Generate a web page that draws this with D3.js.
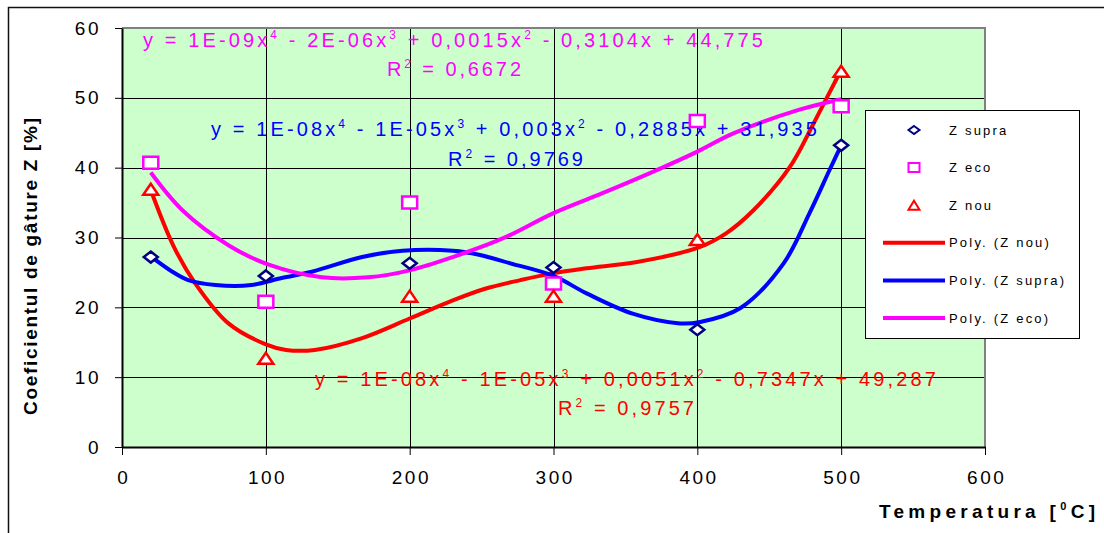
<!DOCTYPE html>
<html>
<head>
<meta charset="utf-8">
<script src="https://cdn.jsdelivr.net/npm/d3@7"></script>
<style>
  body { margin: 0; background: #fff; }
  svg { display: block; font-family: "Liberation Sans", Arial, sans-serif; }
</style>
</head>
<body>
<svg id="chart" width="1104" height="533"></svg>
<script>
// measured points
var temps = [20, 100, 200, 300, 400, 500];
var zSupra = [27.2, 24.5, 26.3, 25.7, 16.8, 43.2];
var zEco = [40.7, 20.8, 35.0, 23.4, 46.7, 48.8];
var zNou = [36.9, 12.7, 21.6, 21.6, 29.7, 53.8];

// trend lines
var trendNouX = [20, 36, 51, 74, 100, 114, 134, 167, 200, 230, 253, 277, 300, 323, 358, 400, 420, 439, 464, 481, 495, 500];
var trendNouY = [36.8, 28.7, 23.4, 17.7, 14.7, 13.9, 13.9, 15.6, 18.4, 21.0, 22.7, 23.9, 24.9, 25.6, 26.5, 28.5, 30.6, 33.9, 40.0, 46.4, 52.0, 54.0];
var trendSupraX = [20, 35, 46, 65, 90, 111, 132, 167, 195, 230, 249, 270, 300, 323, 355, 388, 402, 430, 460, 478, 492, 500];
var trendSupraY = [27.3, 25.1, 23.9, 23.2, 23.2, 24.2, 25.1, 27.2, 28.1, 28.1, 27.5, 26.3, 24.5, 22.0, 19.1, 17.7, 17.9, 19.9, 26.3, 33.5, 39.7, 43.2];
var trendEcoX = [20, 42, 74, 102, 139, 171, 200, 230, 265, 300, 337, 369, 400, 425, 471, 500];
var trendEcoY = [39.3, 33.9, 28.9, 26.1, 24.3, 24.3, 25.3, 27.2, 29.9, 33.5, 36.6, 39.4, 42.3, 44.9, 48.3, 49.8];

var xTicks = [0, 100, 200, 300, 400, 500, 600];
var yTicks = [0, 10, 20, 30, 40, 50, 60];

var eqEco = ["y = 1E-09x^4 - 2E-06x^3 + 0,0015x^2 - 0,3104x + 44,775", "R^2 = 0,6672"];
var eqSupra = ["y = 1E-08x^4 - 1E-05x^3 + 0,003x^2 - 0,2885x + 31,935", "R^2 = 0,9769"];
var eqNou = ["y = 1E-08x^4 - 1E-05x^3 + 0,0051x^2 - 0,7347x + 49,287", "R^2 = 0,9757"];

var legendNames = ["Z supra", "Z eco", "Z nou", "Poly. (Z nou)", "Poly. (Z supra)", "Poly. (Z eco)"];

var svg = d3.select('#chart');

var x = d3.scaleLinear().domain([0, 600]).range([122, 985]);
var y = d3.scaleLinear().domain([0, 60]).range([447, 28]);

// outer chart frame
svg.append('rect')
  .attr('x', 8.5).attr('y', 7.5)
  .attr('width', 1200).attr('height', 600)
  .style('fill', '#fff').style('stroke', '#111').style('stroke-width', 1.5);

// plot area
svg.append('rect')
  .attr('x', x(0)).attr('y', y(60))
  .attr('width', x(600) - x(0)).attr('height', y(0) - y(60))
  .style('fill', '#ccffcc');

// grid
svg.append('g').selectAll('line').data(yTicks.slice(1, -1)).enter().append('line')
  .attr('x1', x(0)).attr('x2', x(600))
  .attr('y1', function(d) { return Math.round(y(d)) + 0.5; })
  .attr('y2', function(d) { return Math.round(y(d)) + 0.5; })
  .style('stroke', '#000').style('stroke-width', 1);
svg.append('g').selectAll('line').data(xTicks.slice(1, -1)).enter().append('line')
  .attr('y1', y(0)).attr('y2', y(60))
  .attr('x1', function(d) { return Math.round(x(d)) + 0.5; })
  .attr('x2', function(d) { return Math.round(x(d)) + 0.5; })
  .style('stroke', '#000').style('stroke-width', 1);

// grey border top / right
svg.append('path')
  .attr('d', 'M' + x(0) + ',' + y(60) + 'H' + x(600) + 'V' + y(0))
  .style('fill', 'none').style('stroke', '#808080').style('stroke-width', 2);

// axes
var yAxis = svg.append('g')
  .attr('transform', 'translate(' + x(0) + ',0)')
  .call(d3.axisLeft(y).tickValues(yTicks).tickSize(7).tickSizeOuter(0).tickPadding(14));
var xAxis = svg.append('g')
  .attr('transform', 'translate(0,' + y(0) + ')')
  .call(d3.axisBottom(x).tickValues(xTicks).tickSize(8).tickSizeOuter(0).tickPadding(16));

[yAxis, xAxis].forEach(function(a) {
  a.select('.domain').style('stroke', '#000').style('stroke-width', 2);
  a.selectAll('.tick line').style('stroke', '#000').style('stroke-width', 1);
  a.selectAll('.tick text')
    .style('font-size', '19px').style('fill', '#000')
    .style('font-family', '"Liberation Sans", Arial, sans-serif')
    .style('letter-spacing', '2.5px');
});
xAxis.selectAll('.tick text').attr('dx', '1.2px');

// trend lines
var line = d3.line().curve(d3.curveCatmullRom.alpha(0.5))
  .x(function(d) { return x(d[0]); })
  .y(function(d) { return y(d[1]); });

function drawTrend(xs, ys, color) {
  svg.append('path')
    .datum(d3.zip(xs, ys))
    .attr('d', line)
    .style('fill', 'none').style('stroke', color)
    .style('stroke-width', 4).style('stroke-linejoin', 'round');
}
drawTrend(trendNouX, trendNouY, '#ff0000');
drawTrend(trendSupraX, trendSupraY, '#0000ff');
drawTrend(trendEcoX, trendEcoY, '#ff00ff');

// stretch text to a measured width through letter spacing
function fitWidth(t, w) {
  var n = t.text().length;
  var natural = t.node().getBBox().width;
  t.style('letter-spacing', ((w - natural) / (n - 1)) + 'px');
}

// text with ^n superscripts
function richText(g, str, px, py, size, color) {
  var t = g.append('text').attr('x', px).attr('y', py)
    .style('font-size', size + 'px').style('fill', color);
  var parts = str.split(/\^(\d)/);
  var shift = Math.round(size * 0.42);
  parts.forEach(function(p, i) {
    if (p === '') return;
    if (i % 2 === 1) {
      t.append('tspan').attr('dy', -shift).style('font-size', Math.round(size * 0.62) + 'px').text(p);
    } else {
      var s = t.append('tspan').text(p);
      if (i > 0) s.attr('dy', shift);
    }
  });
  return t;
}

var labels = svg.append('g');
fitWidth(richText(labels, eqEco[0], 143, 47, 20, '#ff00ff'), 620);
fitWidth(richText(labels, eqEco[1], 387, 76, 20, '#ff00ff'), 134);
fitWidth(richText(labels, eqSupra[0], 211, 136, 20, '#0000ff'), 606);
fitWidth(richText(labels, eqSupra[1], 448, 166, 20, '#0000ff'), 135);
fitWidth(richText(labels, eqNou[0], 315, 386, 20, '#ff0000'), 621);
fitWidth(richText(labels, eqNou[1], 558, 415, 20, '#ff0000'), 136);

// marker shapes
function diamond(w, h) { return 'M0,' + (-h / 2) + 'L' + (w / 2) + ',0L0,' + (h / 2) + 'L' + (-w / 2) + ',0Z'; }
function square(w, h) { return 'M' + (-w / 2) + ',' + (-h / 2) + 'h' + w + 'v' + h + 'h' + (-w) + 'Z'; }
function triangle(w, h) { return 'M0,' + (-h / 2) + 'L' + (w / 2) + ',' + (h / 2) + 'L' + (-w / 2) + ',' + (h / 2) + 'Z'; }

function drawMarkers(values, shape, color) {
  svg.append('g').selectAll('path').data(d3.zip(temps, values)).enter().append('path')
    .attr('transform', function(d) { return 'translate(' + x(d[0]) + ',' + y(d[1]) + ')'; })
    .attr('d', shape)
    .style('fill', '#fff').style('stroke', color).style('stroke-width', 2.5);
}
drawMarkers(zSupra, diamond(14, 11), '#000080');
drawMarkers(zEco, square(15, 12), '#ff00ff');
drawMarkers(zNou, triangle(15, 11), '#ff0000');

// axis titles
var yTitle = svg.append('text')
  .attr('transform', 'translate(37,415) rotate(-90)')
  .style('font-size', '19px').style('font-weight', 'bold').style('fill', '#000')
  .text('Coeficientul de gâture Z [%]');
fitWidth(yTitle, 297);

var xTitle = svg.append('text')
  .attr('x', 879).attr('y', 518)
  .style('font-size', '19px').style('font-weight', 'bold').style('fill', '#000')
  .style('letter-spacing', '4.3px');
xTitle.append('tspan').text('Temperatura [');
xTitle.append('tspan').attr('dy', -8).style('font-size', '11px').text('0');
xTitle.append('tspan').attr('dy', 8).text('C]');

// legend
var legend = svg.append('g');
legend.append('rect')
  .attr('x', 865.5).attr('y', 110.5).attr('width', 214).attr('height', 228)
  .style('fill', '#fff').style('stroke', '#000').style('stroke-width', 1);

var legendY = d3.scalePoint().domain(legendNames).range([130, 318]);
var legendMarks = [
  { shape: diamond(11, 8), color: '#000080' },
  { shape: square(11, 9), color: '#ff00ff' },
  { shape: triangle(11, 9), color: '#ff0000' },
  { line: '#ff0000' }, { line: '#0000ff' }, { line: '#ff00ff' }
];
legendNames.forEach(function(name, i) {
  var m = legendMarks[i], ly = legendY(name);
  if (m.line) {
    legend.append('line')
      .attr('x1', 883).attr('x2', 945).attr('y1', ly).attr('y2', ly)
      .style('stroke', m.line).style('stroke-width', 4);
  } else {
    legend.append('path')
      .attr('transform', 'translate(914,' + ly + ')')
      .attr('d', m.shape)
      .style('fill', '#fff').style('stroke', m.color).style('stroke-width', 2);
  }
  legend.append('text')
    .attr('x', 949).attr('y', ly).attr('dy', '0.36em')
    .style('font-size', '13px').style('fill', '#000').style('letter-spacing', '2.2px')
    .text(name);
});
</script>
</body>
</html>
